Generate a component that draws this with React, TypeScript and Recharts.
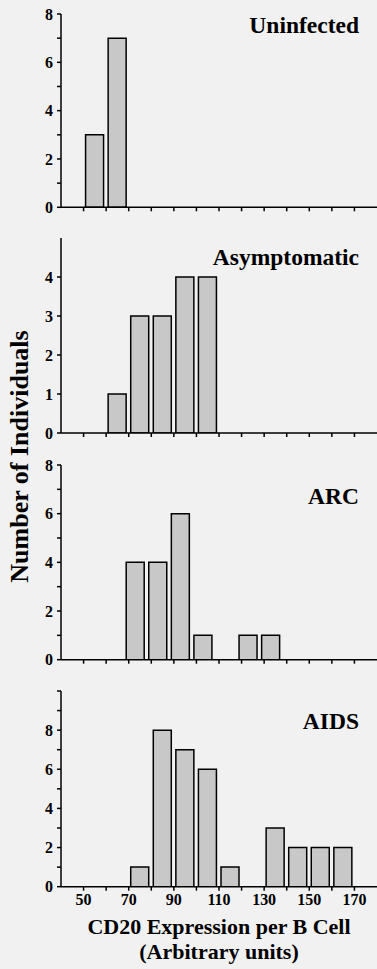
import React from 'react';
import { BarChart, Bar, XAxis, YAxis } from 'recharts';

// Bin centres (CD20 expression, arbitrary units) and counts per group
const binsUninfected = [55, 65];
const countsUninfected = [3, 7];
const binsAsymptomatic = [65, 75, 85, 95, 105];
const countsAsymptomatic = [1, 3, 3, 4, 4];
const binsARC = [73, 83, 93, 103, 123, 133];
const countsARC = [4, 4, 6, 1, 1, 1];
const binsAIDS = [75, 85, 95, 105, 115, 135, 145, 155, 165];
const countsAIDS = [1, 8, 7, 6, 1, 3, 2, 2, 2];

const xTicks = [50, 60, 70, 80, 90, 100, 110, 120, 130, 140, 150, 160, 170];
const xLabelTicks = [50, 70, 90, 110, 130, 150, 170];
const yTicks8 = [0, 1, 2, 3, 4, 5, 6, 7, 8];
const yTicks5 = [0, 1, 2, 3, 4];
const yTicks10 = [0, 1, 2, 3, 4, 5, 6, 7, 8, 9, 10];

const FONT = "'Liberation Serif', 'Times New Roman', serif";
const tickStyle = { fill: '#000', fontFamily: FONT, fontWeight: 700, fontSize: 16 };

type PanelProps = {
  bins: number[];
  counts: number[];
  yMax: number;
  yTicks: number[];
  yLabel: (v: number) => string;
  top: number;
  plotHeight: number;
  showX: boolean;
};

function Panel({ bins, counts, yMax, yTicks, yLabel, top, plotHeight, showX }: PanelProps) {
  const data = bins.map((b, i) => ({ x: b, n: counts[i] }));
  const mt = 10;
  const xh = showX ? 30 : 12;
  return (
    <div style={{ position: 'absolute', left: 0, top: top - mt }}>
      <BarChart
        width={377}
        height={mt + plotHeight + xh}
        data={data}
        margin={{ top: mt, right: 0, bottom: 0, left: 0 }}
      >
        <XAxis
          dataKey="x"
          type="number"
          domain={[40, 180]}
          allowDataOverflow
          ticks={xTicks}
          interval={0}
          height={xh}
          tickSize={4}
          tickMargin={3}
          axisLine={{ stroke: '#000', strokeWidth: 1.5 }}
          tickLine={{ stroke: '#000', strokeWidth: 1.5 }}
          tick={tickStyle}
          tickFormatter={(v: number) => (showX && xLabelTicks.includes(v) ? String(v) : '')}
        />
        <YAxis
          type="number"
          domain={[0, yMax]}
          allowDataOverflow
          ticks={yTicks}
          interval={0}
          width={61}
          tickSize={4}
          tickMargin={4}
          axisLine={{ stroke: '#000', strokeWidth: 1.5 }}
          tickLine={{ stroke: '#000', strokeWidth: 1.5 }}
          tick={tickStyle}
          tickFormatter={yLabel}
        />
        <Bar
          dataKey="n"
          barSize={18}
          fill="#c8c8c8"
          stroke="#000"
          strokeWidth={1.5}
          isAnimationActive={false}
        />
      </BarChart>
    </div>
  );
}

const evenUpTo8 = (v: number) => (v % 2 === 0 && v <= 8 ? String(v) : '');
const allUpTo4 = (v: number) => (v <= 4 ? String(v) : '');

export default function App() {
  return (
    <div
      style={{
        position: 'absolute',
        left: 0,
        top: 0,
        width: 377,
        height: 969,
        background: '#f1f1f1',
        overflow: 'hidden',
      }}
    >
      <Panel bins={binsUninfected} counts={countsUninfected} yMax={8} yTicks={yTicks8} yLabel={evenUpTo8} top={14} plotHeight={193.3} showX={false} />
      <Panel bins={binsAsymptomatic} counts={countsAsymptomatic} yMax={5} yTicks={yTicks5} yLabel={allUpTo4} top={238.3} plotHeight={195} showX={false} />
      <Panel bins={binsARC} counts={countsARC} yMax={8} yTicks={yTicks8} yLabel={evenUpTo8} top={465.3} plotHeight={194.7} showX={false} />
      <Panel bins={binsAIDS} counts={countsAIDS} yMax={10} yTicks={yTicks10} yLabel={evenUpTo8} top={691} plotHeight={195.7} showX={true} />
      <svg
        width={377}
        height={969}
        style={{ position: 'absolute', left: 0, top: 0, pointerEvents: 'none' }}
      >
        <g fontFamily={FONT} fontWeight={700} fill="#000">
          <text x={359} y={33.3} textAnchor="end" fontSize={23.5}>Uninfected</text>
          <text x={359} y={265} textAnchor="end" fontSize={23.5}>Asymptomatic</text>
          <text x={359} y={504} textAnchor="end" fontSize={23.5}>ARC</text>
          <text x={359} y={729.3} textAnchor="end" fontSize={23.5}>AIDS</text>
          <text
            x={0}
            y={0}
            fontSize={26}
            textAnchor="middle"
            transform="translate(28,456.5) rotate(-90)"
          >
            Number of Individuals
          </text>
          <text x={219} y={934} textAnchor="middle" fontSize={22}>CD20 Expression per B Cell</text>
          <text x={219} y={959} textAnchor="middle" fontSize={22}>(Arbitrary units)</text>
        </g>
      </svg>
    </div>
  );
}
